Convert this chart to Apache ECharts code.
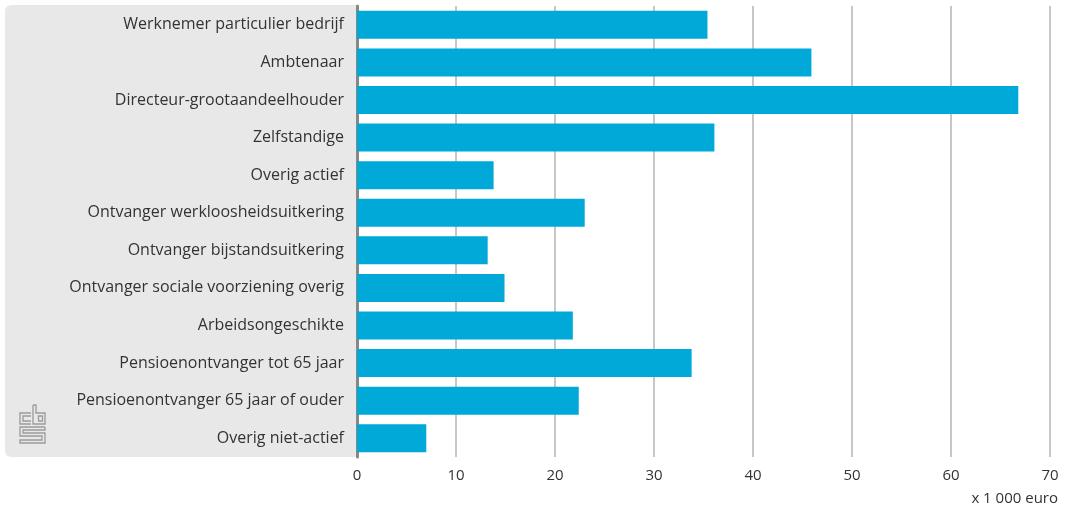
<!DOCTYPE html>
<html>
<head>
<meta charset="utf-8">
<script src="https://cdn.jsdelivr.net/npm/echarts@6/dist/echarts.min.js"></script>
<style>html,body{margin:0;padding:0;background:#fff}#c{width:1071px;height:513px}</style>
</head>
<body>
<div id="c"></div>
<script>
const categories = [
  "Werknemer particulier bedrijf",
  "Ambtenaar",
  "Directeur-grootaandeelhouder",
  "Zelfstandige",
  "Overig actief",
  "Ontvanger werkloosheidsuitkering",
  "Ontvanger bijstandsuitkering",
  "Ontvanger sociale voorziening overig",
  "Arbeidsongeschikte",
  "Pensioenontvanger tot 65 jaar",
  "Pensioenontvanger 65 jaar of ouder",
  "Overig niet-actief"
];
const values = [35.4, 45.9, 66.8, 36.1, 13.8, 23.0, 13.2, 14.9, 21.8, 33.8, 22.4, 7.0];
const unitLabel = "x 1 000 euro";

const FONT = "Open Sans";
const chart = echarts.init(document.getElementById('c'));
const logoStroke = {stroke: '#9a9a9a', lineWidth: 1.3, fill: null};
chart.setOption({
  animation: false,
  textStyle: {fontFamily: FONT},
  grid: {left: 357, right: 21, top: 6, bottom: 56, containLabel: false},
  graphic: [
    {type: 'rect', z: -10, shape: {x: 5, y: 5, width: 351, height: 452, r: [6, 0, 0, 6]}, style: {fill: '#e8e8e8'}},
    {type: 'polyline', z: 1, shape: {points: [[31,413],[20,413],[20,424],[31,424]]}, style: logoStroke},
    {type: 'polyline', z: 1, shape: {points: [[31,416],[23,416],[23,421],[31,421]]}, style: logoStroke},
    {type: 'polyline', z: 1, shape: {points: [[33,405],[33,424],[45,424],[45,413],[36,413],[36,405],[33,405]]}, style: logoStroke},
    {type: 'rect', z: 1, shape: {x: 38.5, y: 416, width: 4, height: 5}, style: logoStroke},
    {type: 'polyline', z: 1, shape: {points: [[45,427],[20,427],[20,436],[42,436],[42,440],[20,440],[20,443],[45,443],[45,433],[23,433],[23,430],[45,430],[45,427]]}, style: logoStroke},
    {type: 'text', z: 5, right: 13, top: 491, style: {text: unitLabel, font: '15px "' + FONT + '"', fill: '#333'}}
  ],
  xAxis: {
    type: 'value', min: 0, max: 70, interval: 10,
    axisLine: {show: false}, axisTick: {show: false},
    axisLabel: {color: '#333', fontSize: 15, margin: 11, fontFamily: FONT},
    splitLine: {show: true, lineStyle: {color: '#b4b4b4', width: 1.5}}
  },
  yAxis: {
    type: 'category', data: categories, inverse: true,
    axisLine: {show: true, onZero: false, lineStyle: {color: '#888', width: 3}},
    axisTick: {show: false},
    axisLabel: {color: '#333', fontSize: 16, margin: 13, fontFamily: FONT}
  },
  series: [{
    type: 'bar', data: values, barWidth: 28,
    itemStyle: {color: '#00a9d8'}
  }]
});
</script>
</body>
</html>
